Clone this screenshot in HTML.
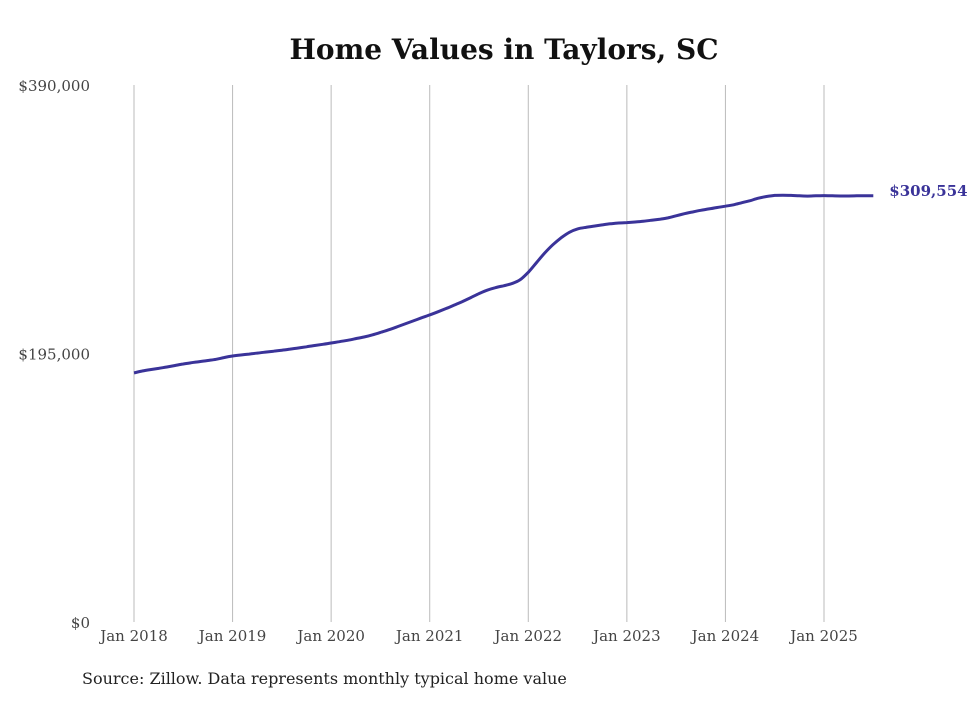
<!DOCTYPE html>
<html><head><meta charset="utf-8"><style>
body{margin:0;background:#fff;width:980px;height:699px;overflow:hidden}
svg text{font-family:"DejaVu Serif","Liberation Serif",serif}
</style></head><body>
<svg width="980" height="699">
<text x="504" y="59" text-anchor="middle" font-size="28" font-weight="bold" fill="#111">Home Values in Taylors, SC</text>
<g id="grid"></g><g id="yaxis"></g><g id="xaxis"></g>
<path id="line" fill="none" stroke="#3a3399" stroke-width="3" stroke-linejoin="round"/>
<text id="endlabel" font-size="15" font-weight="bold" fill="#3a3399"></text>
<text x="82" y="684" font-size="16" fill="#222">Source: Zillow. Data represents monthly typical home value</text>
</svg>
<script>
const startYear = 2018;
const values = [
180.9,182.3,183.3,184.2,185.2,186.3,187.4,188.3,189.1,189.9,190.8,192.1,
193.2,193.9,194.6,195.3,196,196.7,197.4,198.2,199,199.9,200.8,201.7,
202.6,203.6,204.6,205.8,207,208.5,210.3,212.2,214.3,216.5,218.7,220.9,
223,225.3,227.7,230.2,232.8,235.6,238.5,241,242.8,244.2,245.8,248.5,
254,261,268,274,279,283,285.5,286.6,287.5,288.4,289.2,289.8,
290.1,290.5,291,291.8,292.5,293.5,295,296.5,297.8,299,300,301,
302,303,304.5,306,307.8,309,309.8,310,309.8,309.5,309.3,309.5,
309.7,309.5,309.4,309.4,309.5,309.6,309.554];
const yTicks = [0,195000,390000];
const yTickLabels = ["$0","$195,000","$390,000"];
const xTickLabels = ["Jan 2018","Jan 2019","Jan 2020","Jan 2021","Jan 2022","Jan 2023","Jan 2024","Jan 2025"];
const endLabel = "$309,554";

const NS="http://www.w3.org/2000/svg";
const x0=134, pxPerMonth=(824-134)/84;
const yTop=85, yBot=622, yMax=390000;
const xs=i=>x0+i*pxPerMonth;
const ys=v=>yBot-v/yMax*(yBot-yTop);
function mk(tag,attrs,parent,txt){const e=document.createElementNS(NS,tag);for(const k in attrs)e.setAttribute(k,attrs[k]);if(txt!==undefined)e.textContent=txt;document.getElementById(parent).appendChild(e);return e;}
xTickLabels.forEach((l,i)=>{
  const x=xs(i*12);
  const g=mk('line',{x1:x,x2:x,y1:yTop,y2:yBot,stroke:'#bbb','stroke-width':1},'grid');
  
  
  const t=mk('text',{x:x,y:641,'text-anchor':'middle','font-size':15,fill:'#444'},'xaxis',l);
  
  
});
yTicks.forEach((v,i)=>{
  const t=mk('text',{x:90,y:ys(v)+6,'text-anchor':'end','font-size':15,fill:'#444'},'yaxis',yTickLabels[i]);
  
  
});
const pts=values.map((v,i)=>[xs(i),ys(v*1000)]);
let d='M'+pts[0][0].toFixed(1)+','+pts[0][1].toFixed(1);
for(let i=0;i<pts.length-1;i++){
  const p0=pts[Math.max(0,i-1)],p1=pts[i],p2=pts[i+1],p3=pts[Math.min(pts.length-1,i+2)];
  const c1=[p1[0]+(p2[0]-p0[0])/6,p1[1]+(p2[1]-p0[1])/6];
  const c2=[p2[0]-(p3[0]-p1[0])/6,p2[1]-(p3[1]-p1[1])/6];
  d+='C'+c1.map(n=>n.toFixed(1)).join(',')+' '+c2.map(n=>n.toFixed(1)).join(',')+' '+p2.map(n=>n.toFixed(1)).join(',');
}
document.getElementById('line').setAttribute('d',d);
const el=document.getElementById('endlabel');
const n=values.length-1;
el.setAttribute('x',xs(n)+16);
el.setAttribute('y',ys(values[n]*1000)+0);
el.textContent=endLabel;
</script>
</body></html>
